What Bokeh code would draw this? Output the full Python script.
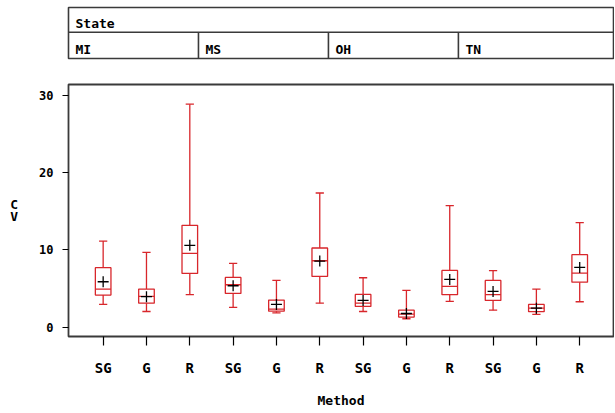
from bokeh.plotting import figure
from bokeh.layouts import column
from bokeh.models import Range1d, FixedTicker, ColumnDataSource
from bokeh.embed import file_html
from bokeh.resources import INLINE
from bokeh.core.properties import value

# ---- data ----
states = ["MI", "MS", "OH", "TN"]
methods = ["SG", "G", "R"]
whisker_low = [2.94, 2.03, 4.20, 2.55, 1.86, 3.11, 2.03, 1.09, 3.33, 2.20, 1.65, 3.29]
q1 = [4.15, 3.11, 6.96, 4.37, 2.07, 6.57, 2.68, 1.30, 4.20, 3.46, 2.00, 5.83]
median = [4.93, 3.98, 9.55, 5.49, 2.33, 8.60, 3.11, 1.69, 5.28, 4.20, 2.46, 7.00]
q3 = [7.70, 4.93, 13.19, 6.44, 3.50, 10.25, 4.24, 2.20, 7.35, 6.05, 2.94, 9.39]
whisker_high = [11.15, 9.68, 28.87, 8.26, 6.05, 17.37, 6.40, 4.76, 15.74, 7.31, 4.93, 13.54]
mean = [5.88, 3.95, 10.59, 5.36, 2.94, 8.56, 3.46, 1.77, 6.18, 4.63, 2.46, 7.74]
y_ticks = [0, 10, 20, 30]

FONT = "DejaVu Sans Mono"
RED = "#d8262b"
FRAME = "#3a3a3a"

n = len(states) * len(methods)
xpos = list(range(1, n + 1))
labels = [methods[i % len(methods)] for i in range(n)]
box_w = 0.36
cap_w = 0.19
x_start, x_end = 0.2, 12.78

src = ColumnDataSource(dict(
    x=xpos,
    left=[x - box_w / 2 for x in xpos], right=[x + box_w / 2 for x in xpos],
    cl=[x - cap_w / 2 for x in xpos], cr=[x + cap_w / 2 for x in xpos],
    lo=whisker_low, q1=q1, med=median, q3=q3, hi=whisker_high, mean=mean,
))

W = 614
ML = 68

# ---- header (State panel labels) ----
h = figure(width=W, height=66, output_backend="svg", toolbar_location=None,
           x_range=Range1d(x_start, x_end), y_range=Range1d(0, 51),
           min_border_left=ML, min_border_right=1, min_border_top=7, min_border_bottom=8)
h.axis.visible = False
h.grid.visible = False
h.outline_line_color = FRAME
h.outline_line_width = 1.6
mid = 26.3
h.segment(x0=[x_start], x1=[x_end], y0=[mid], y1=[mid], line_color=FRAME, line_width=1.6)
divs = [x_start + 3 * k for k in range(1, len(states))]
h.segment(x0=divs, x1=divs, y0=[0] * len(divs), y1=[mid] * len(divs), line_color=FRAME, line_width=1.6)
h.text(x=[x_start], y=[35.5], text=["State"], text_font=value(FONT), text_font_style="bold",
       text_font_size="13px", text_baseline="middle", x_offset=7, text_color="black")
cell_starts = [x_start + 3 * k for k in range(len(states))]
h.text(x=cell_starts, y=[9.5] * len(states), text=states, text_font=value(FONT),
       text_font_style="bold", text_font_size="13px", text_baseline="middle",
       x_offset=7, text_color="black")

# ---- main box plot ----
p = figure(width=W, height=347, output_backend="svg", toolbar_location=None,
           x_range=Range1d(x_start, x_end), y_range=Range1d(-1.21, 31.42),
           min_border_left=ML, min_border_right=1, min_border_top=18, min_border_bottom=77)
p.grid.visible = False
p.outline_line_color = FRAME
p.outline_line_width = 1.8

p.segment(x0="x", x1="x", y0="lo", y1="q1", source=src, line_color=RED, line_width=1.3)
p.segment(x0="x", x1="x", y0="q3", y1="hi", source=src, line_color=RED, line_width=1.3)
p.segment(x0="cl", x1="cr", y0="lo", y1="lo", source=src, line_color=RED, line_width=1.3)
p.segment(x0="cl", x1="cr", y0="hi", y1="hi", source=src, line_color=RED, line_width=1.3)
p.quad(left="left", right="right", bottom="q1", top="q3", source=src,
       fill_color=None, line_color=RED, line_width=1.3)
p.segment(x0="left", x1="right", y0="med", y1="med", source=src, line_color=RED, line_width=1.3)
p.scatter(x="x", y="mean", source=src, marker="cross", size=11, line_color="black", line_width=1.3)

p.xaxis.ticker = FixedTicker(ticks=xpos)
p.xaxis.major_label_overrides = {x: l for x, l in zip(xpos, labels)}
p.xaxis.axis_label = "Method"
p.yaxis.ticker = FixedTicker(ticks=y_ticks)
p.yaxis.axis_label = "C\nV"
p.yaxis.axis_label_orientation = "horizontal"

for ax in (p.xaxis, p.yaxis):
    ax.axis_line_color = None
    ax.major_tick_line_color = "black"
    ax.major_tick_line_width = 1.2
    ax.minor_tick_line_color = None
    ax.major_tick_in = 0
    ax.major_label_text_font = FONT
    ax.major_label_text_font_style = "bold"
    ax.major_label_text_color = "black"
    ax.axis_label_text_font = FONT
    ax.axis_label_text_font_style = "bold"
    ax.axis_label_text_color = "black"
    ax.axis_label_text_font_size = "13px"

p.xaxis.major_tick_out = 9
p.xaxis.major_label_text_font_size = "14px"
p.xaxis.major_label_standoff = 14
p.xaxis.axis_label_standoff = 14
p.yaxis.major_tick_out = 6
p.yaxis.major_label_text_font_size = "12px"
p.yaxis.major_label_standoff = 9
p.yaxis.axis_label_standoff = 18
p.yaxis.axis_label_text_line_height = 0.75

layout = column(h, p, spacing=0)
open("out.html", "w").write(file_html(layout, INLINE))
